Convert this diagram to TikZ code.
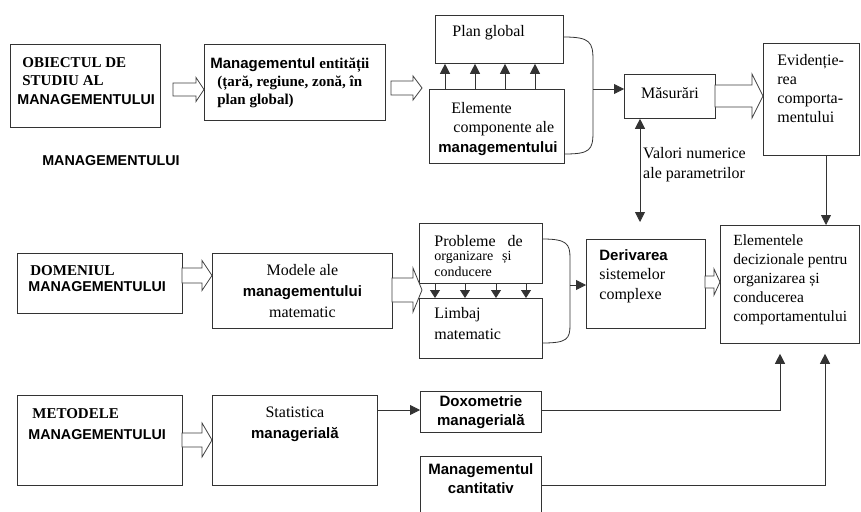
\documentclass[tikz,border=0pt]{standalone}
\usepackage{fontspec}
\setmainfont{Liberation Serif}
\setsansfont{Liberation Sans}
\usetikzlibrary{arrows.meta,calc}
\newcommand\mybf[1]{{\fontsize{15}{19.5}\selectfont\bfseries #1}}
\newcommand\mysf[1]{{\sffamily\bfseries\fontsize{15}{19.5}\selectfont #1}}
\newcommand\mysfM[1]{{\sffamily\bfseries\fontsize{14.3}{19.5}\selectfont #1}}
\newcommand\mystrut{\rule{0pt}{12pt}}
\newcommand\boxc[4]{\parbox[b][#2pt][t]{#1pt}{\vspace*{\dimexpr#3pt-12pt\relax}#4}}
\newcommand\harrow[6]{\draw[hollow] (#1,#3-#4) -- (#2-#6,#3-#4) -- (#2-#6,#3-#5) -- (#2,#3) -- (#2-#6,#3+#5) -- (#2-#6,#3+#4) -- (#1,#3+#4) -- cycle;}
\begin{document}
\begin{tikzpicture}[x=1pt,y=-1pt,
  bx/.style={draw=black!80, line width=0.8pt, inner sep=0pt, anchor=north west, fill=white},
  ln/.style={draw=black!80, line width=0.8pt},
  fa/.style={ln, -{Triangle[length=10pt,width=10pt]}},
  fb/.style={ln, -{Triangle[length=8pt,width=10pt]}},
  fa2/.style={ln, {Triangle[length=10pt,width=10pt]}-{Triangle[length=10pt,width=10pt]}},
  hollow/.style={draw=black!75, line width=0.8pt, fill=white, line join=miter},
  every node/.style={font=\fontsize{16}{19.5}\selectfont}]
\fill[white] (0,0) rectangle (861,511);
\useasboundingbox (0,0) rectangle (861,511);

% row 1
\node[bx] (obj) at (10,44) {\boxc{150}{83}{23}{\raggedright\mystrut\hspace*{12pt}\mybf{OBIECTUL DE}\\[-1pt]\hspace*{12pt}\mybf{STUDIU AL}\\[-1pt]\hspace*{7pt}\mysfM{MANAGEMENTULUI}}};
\node[bx] (ent) at (204,44) {\boxc{181}{76}{24}{\raggedright\mystrut\hspace*{6pt}\mysf{Managementul} \mybf{entității}\\[-1.5pt]\hspace*{13pt}\mybf{(țară, regiune, zonă, în}\\[-1.5pt]\hspace*{13pt}\mybf{plan global)}}};
\node[bx] (plan) at (435,15) {\boxc{128}{48}{21}{\raggedright\mystrut\hspace*{17pt}Plan global}};
\node[bx] (elem) at (429,89) {\boxc{135}{74}{24}{\raggedright\mystrut\hspace*{22pt}Elemente\\\hspace*{24pt}componente ale\\\hspace*{9pt}\mysf{managementului}}};
\node[bx] (mas) at (624,74) {\boxc{91}{44}{24}{\centering\mystrut Măsurări}};
\node[bx] (evid) at (763,43) {\boxc{96}{112}{22}{\raggedright\mystrut\hspace*{14pt}Evidenție-\\[-0.5pt]\hspace*{14pt}rea\\[-0.5pt]\hspace*{14pt}comporta-\\[-0.5pt]\hspace*{14pt}mentului}};
\node[anchor=north west, inner sep=0pt, align=left] (valori) at (643,146) {\mystrut Valori numerice\\[0.5pt]ale parametrilor};
\node[anchor=base, inner sep=0pt] (mgfree) at (111,165) {\mysfM{MANAGEMENTULUI}};

% row 2
\node[bx] (dom) at (17,253) {\boxc{165}{60}{22}{\raggedright\mystrut\hspace*{13pt}\mybf{DOMENIUL}\\[-3.5pt]\hspace*{11pt}\mysfM{MANAGEMENTULUI}}};
\node[bx] (mod) at (212,253) {\boxc{180}{75}{22}{\centering\mystrut Modele ale\\[1.5pt]\mysf{managementului}\\[1.5pt]matematic}};
\node[bx] (prob) at (419,223) {\boxc{123}{60}{23}{\raggedright\mystrut\hspace*{15pt}Probleme\hspace{12pt}de\\[-5.5pt]\hspace*{15pt}{\fontsize{14}{15}\selectfont organizare\hspace{9pt}și}\\[-3.5pt]\hspace*{15pt}{\fontsize{14}{15}\selectfont conducere}}};
\node[bx] (limb) at (419,298) {\boxc{123}{60}{20}{\raggedright\mystrut\hspace*{15pt}Limbaj\\[1.5pt]\hspace*{15pt}matematic}};
\node[bx] (deriv) at (586,239) {\boxc{119}{89}{21}{\raggedright\mystrut\hspace*{13pt}\mysf{Derivarea}\\\hspace*{13pt}sistemelor\\\hspace*{13pt}complexe}};
\node[bx] (elt) at (720,225) {\boxc{139}{118}{20}{\fontsize{15.5}{19}\selectfont\raggedright\mystrut\hspace*{13pt}Elementele\\\hspace*{13pt}decizionale pentru\\\hspace*{13pt}organizarea și\\\hspace*{13pt}conducerea\\\hspace*{13pt}comportamentului}};

% row 3
\node[bx] (met) at (17,395) {\boxc{165}{90}{23}{\raggedright\mystrut\hspace*{15pt}\mybf{METODELE}\\[1.5pt]\hspace*{11pt}\mysfM{MANAGEMENTULUI}}};
\node[bx] (stat) at (212,395) {\boxc{165}{90}{22}{\centering\mystrut Statistica\\[1.5pt]\mysf{managerială}}};
\node[bx] (dox) at (420,391) {\boxc{121}{41}{15}{\centering\mystrut\mysf{Doxometrie}\\[-0.5pt]\mysf{managerială}}};
\node[bx] (cant) at (420,456) {\boxc{121}{57}{18}{\centering\mystrut\mysf{Managementul}\\\mysf{cantitativ}}};

% hollow arrows
\harrow{173}{204}{89.5}{6.5}{12}{8}
\harrow{391}{422}{88}{7}{12}{9}
\harrow{715}{763}{96}{11}{22}{11}
\harrow{182}{212}{275.5}{7.5}{15}{10}
\harrow{392}{422}{290}{12}{22}{9}
\harrow{705}{720}{282}{6}{13}{6}
\harrow{182}{212}{440}{7}{17}{10}

% connectors top group
\foreach \x in {445,475,505,535} \draw[fa] (elem.north -| \x,0) -- (plan.south -| \x,0);
\draw[ln] (plan.east |- 0,37) .. controls (590,37) and (593,42) .. (593,60) -- (593,132) .. controls (593,150) and (590,154) .. (elem.east |- 0,154);
\coordinate (j1) at (593,89);
\draw[fa] (j1) -- (mas.west |- j1);
\draw[fa2, shorten >=17pt] (mas.south -| 640,0) -- (deriv.north -| 640,0);
\draw[fa] (evid.south -| 826,0) -- (elt.north -| 826,0);

% middle group
\foreach \x in {435,465,496,526} \draw[fb] (prob.south -| \x,0) -- (limb.north -| \x,0);
\draw[ln] (prob.east |- 0,239) .. controls (567,239) and (570,244) .. (570,258) -- (570,325) .. controls (570,339) and (567,343) .. (limb.east |- 0,343);
\coordinate (j2) at (570,285);
\draw[fa] (j2) -- (deriv.west |- j2);

% bottom group
\draw[fa] (stat.east |- 0,410) -- (dox.west |- 0,410);
\draw[fa, shorten >=10pt] (dox.east |- 0,410) -| (elt.south -| 780,0);
\draw[fa, shorten >=10pt] (cant.east |- 0,485) -| (elt.south -| 825,0);
\end{tikzpicture}
\end{document}
